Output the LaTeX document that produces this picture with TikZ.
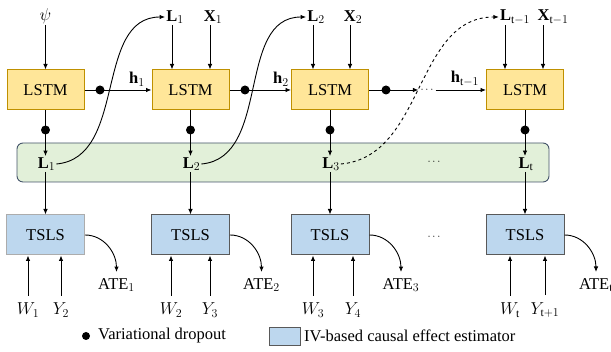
\documentclass[tikz,border=0pt]{standalone}
\usepackage{fontspec}
\setmainfont{Liberation Serif}
\newfontfamily\labelfont{Liberation Serif}
\usetikzlibrary{arrows.meta}

\definecolor{lstmfill}{HTML}{FFE699}
\definecolor{lstmdraw}{HTML}{BF9000}
\definecolor{tslsfill}{HTML}{BDD7EE}
\definecolor{tslsdraw}{HTML}{595959}
\definecolor{bandfill}{HTML}{E2F0D9}
\definecolor{banddraw}{HTML}{44546A}

\begin{document}
\begin{tikzpicture}[x=1pt,y=1pt,
  font=\labelfont\fontsize{16.5}{19}\selectfont,
  lstm/.style={draw=lstmdraw, fill=lstmfill, line width=1pt,
    minimum width=77pt, minimum height=40pt, inner sep=0pt},
  tsls/.style={draw=tslsdraw, fill=tslsfill, line width=1pt,
    minimum width=78pt, minimum height=40pt, inner sep=0pt},
  arr/.style={-{Latex[length=5.5pt,width=4.5pt]}, line width=0.9pt},
  dropdot/.style={circle, fill=black, inner sep=0pt, minimum size=9pt},
  lbl/.style={inner sep=1pt},
  dotsnode/.style={inner sep=2pt, font=\fontsize{11}{12}\selectfont},
]
\useasboundingbox (0,0) rectangle (611,352);

% shared hidden-state band
\node[draw=banddraw, fill=bandfill, rounded corners=6pt, line width=0.9pt,
  minimum width=532pt, minimum height=39pt, inner sep=0pt] (band) at (283,189.5) {};

% LSTM cells
\node[lstm] (lstm1) at (45.5,262) {LSTM};
\node[lstm] (lstm2) at (190.5,262) {LSTM};
\node[lstm] (lstm3) at (330,262) {LSTM};
\node[lstm] (lstm4) at (525,262) {LSTM};

% TSLS estimators
\node[tsls, draw=tslsdraw!50] (tsls1) at (45.5,117) {TSLS};
\node[tsls] (tsls2) at (190.5,117) {TSLS};
\node[tsls] (tsls3) at (330,117) {TSLS};
\node[tsls] (tsls4) at (525,117) {TSLS};

% latent labels inside the band
\node[lbl] (lb1) at (46.5,188) {$\mathbf{L}_1$};
\node[lbl] (lb2) at (191.5,188) {$\mathbf{L}_2$};
\node[lbl] (lb3) at (331,188) {$\mathbf{L}_3$};
\node[lbl] (lb4) at (526,188) {$\mathbf{L}_\mathrm{t}$};
\node[dotsnode] (banddots) at (434,190) {$\cdots$};

% inputs on top
\node[lbl] (psi) at (45.5,336) {$\psi$};
\node[lbl] (lt1) at (175,335) {$\mathbf{L}_1$};
\node[lbl] (xt1) at (213,335) {$\mathbf{X}_1$};
\node[lbl] (lt2) at (316,335) {$\mathbf{L}_2$};
\node[lbl] (xt2) at (353,335) {$\mathbf{X}_2$};
\node[lbl] (lt3) at (515,335) {$\mathbf{L}_{\mathrm{t}-1}$};
\node[lbl] (xt3) at (553,335) {$\mathbf{X}_{\mathrm{t}-1}$};

\coordinate (in2a) at ([xshift=-18.5pt]lstm2.north);
\coordinate (in2b) at ([xshift=19.5pt]lstm2.north);
\coordinate (in3a) at ([xshift=-17pt]lstm3.north);
\coordinate (in3b) at ([xshift=20pt]lstm3.north);
\coordinate (in4a) at ([xshift=-20pt]lstm4.north);
\coordinate (in4b) at ([xshift=18pt]lstm4.north);

\draw[arr] (psi.south) -- (lstm1.north);
\draw[arr] (lt1.south -| in2a) -- (in2a);
\draw[arr] (xt1.south -| in2b) -- (in2b);
\draw[arr] (lt2.south -| in3a) -- (in3a);
\draw[arr] (xt2.south -| in3b) -- (in3b);
\draw[arr] (lt3.south -| in4a) -- (in4a);
\draw[arr] (xt3.south -| in4b) -- (in4b);

% hidden state chain
\node[lbl] (h1) at (137,273) {$\mathbf{h}_1$};
\node[lbl] (h2) at (281,273) {$\mathbf{h}_2$};
\node[lbl] (h3) at (465,273) {$\mathbf{h}_{\mathrm{t}-1}$};
\node[dotsnode] (hdots) at (427,262) {$\cdots$};

\draw[arr] (lstm1.east) -- (lstm2.west);
\draw[arr] (lstm2.east) -- (lstm3.west);
\draw[arr] (lstm3.east) -- (hdots.west);
\draw[arr] (hdots.east) -- (lstm4.west);
\node[dropdot] (dh1) at (100,262) {};
\node[dropdot] (dh2) at (245,262) {};
\node[dropdot] (dh3) at (386,262) {};

% LSTM outputs into the band
\foreach \i in {1,...,4} {
  \draw[arr] (lstm\i.south) -- (lstm\i.south |- lb\i.north);
  \node[dropdot] (dv\i) at (lstm\i.south |- 0,222) {};
  \draw[arr] (lstm\i.south |- lb\i.south) -- (tsls\i.north);
}

% feedback of latent states to the next step
\draw[arr] (lb1.east) to[out=5,in=180] (lt1.west);
\draw[arr] (lb2.east) to[out=5,in=180] (lt2.west);
\draw[arr, dashed] (lb3.east) to[out=5,in=180] (lt3.west);

% estimator outputs
\node[lbl] (ate1) at (116.5,67) {ATE$_1$};
\node[lbl] (ate2) at (261.5,67) {ATE$_2$};
\node[lbl] (ate3) at (401,67) {ATE$_3$};
\node[lbl] (ate4) at (596,67) {ATE$_\mathrm{t}$};
\node[dotsnode] (tslsdots) at (434,115) {$\cdots$};
\foreach \i in {1,...,4} {
  \draw[arr] (tsls\i.east) to[out=0,in=90] ([yshift=5pt]ate\i.north);
}

% instruments and outcomes
\node[lbl] (w1) at (28,42) {$W_1$};
\node[lbl] (y1) at (61,42) {$Y_2$};
\node[lbl] (w2) at (171,42) {$W_2$};
\node[lbl] (y2) at (210,42) {$Y_3$};
\node[lbl] (w3) at (313,42) {$W_3$};
\node[lbl] (y3) at (353,42) {$Y_4$};
\node[lbl] (w4) at (510,42) {$W_\mathrm{t}$};
\node[lbl] (y4) at (545,42) {$Y_{\mathrm{t}+1}$};
\foreach \i in {1,...,4} {
  \draw[arr] ([yshift=6pt]w\i.north) -- (w\i.north |- tsls\i.south);
  \draw[arr] ([yshift=6pt]y\i.north) -- (y\i.north |- tsls\i.south);
}

% legend
\node[circle, fill=black, inner sep=0pt, minimum size=8pt] (legdot) at (86,16) {};
\node[anchor=west, inner sep=0pt] (legdottext) at (98,16) {Variational dropout};
\node[draw=tslsdraw, fill=tslsfill, line width=0.9pt, minimum width=31pt,
  minimum height=18pt, inner sep=0pt] (legbox) at (284.5,16) {};
\node[anchor=west, inner sep=0pt] (legboxtext) at (304,16) {IV-based causal effect estimator};
\end{tikzpicture}
\end{document}
